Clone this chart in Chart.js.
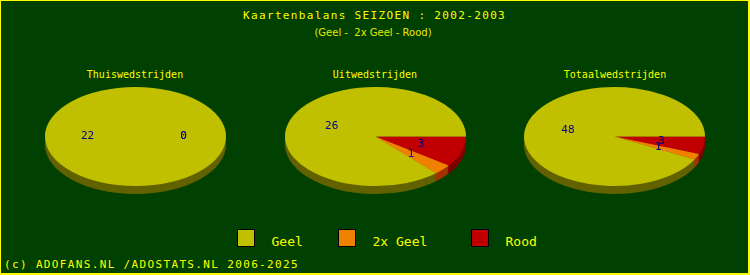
<!DOCTYPE html>
<html>
<head>
<meta charset="utf-8">
<script src="https://cdn.jsdelivr.net/npm/chart.js@4.4.1/dist/chart.umd.min.js"></script>
<style>
body { margin: 0; background: #004000; }
#wrap {
    position: relative; width: 747px; height: 272px; background: #004000;
    border-top: 1px solid #ffff00; border-left: 1px solid #ffff00;
    border-right: 2px solid #ffff00; border-bottom: 2px solid #ffff00;
    overflow: hidden; color: #ffff00; font-family: "DejaVu Sans Mono", monospace;
}
.txt { position: absolute; white-space: pre; }
.mono11 { font-size: 11px; line-height: 11px; letter-spacing: 1.35px; }
.pietitle { font-size: 10px; line-height: 10px; width: 200px; text-align: center; }
.legtxt { font-size: 13px; line-height: 13px; }
.box { position: absolute; width: 16px; height: 16px; border: 1px solid #000; }
canvas { position: absolute; }
</style>
</head>
<body>
<div id="wrap">
    <div class="txt mono11" style="left:242px; top:9px;">Kaartenbalans SEIZOEN : 2002-2003</div>
    <div class="txt" style="left:0; width:744px; text-align:center; top:27px; font-family:'DejaVu Sans'; font-size:10px; line-height:10px; color:#e8e800;">(Geel -  2x Geel - Rood)</div>

    <div class="txt pietitle" style="left:34px; top:69px;" id="t0"></div>
    <div class="txt pietitle" style="left:274px; top:69px;" id="t1"></div>
    <div class="txt pietitle" style="left:514px; top:69px;" id="t2"></div>

    <canvas id="pie0" width="181" height="181" style="left:44px; top:45px;"></canvas>
    <canvas id="pie1" width="181" height="181" style="left:284px; top:45px;"></canvas>
    <canvas id="pie2" width="181" height="181" style="left:523px; top:45px;"></canvas>

    <div id="legend"></div>

    <div class="txt mono11" style="left:3px; top:258px;">(c) ADOFANS.NL /ADOSTATS.NL 2006-2025</div>
</div>
<script>
// kaarten per soort wedstrijd
var categories = ["Geel", "2x Geel", "Rood"];
var pieTitles = ["Thuiswedstrijden", "Uitwedstrijden", "Totaalwedstrijden"];
var geel = [22, 26, 48];
var dubbelGeel = [0, 1, 1];
var rood = [0, 3, 3];

var topColors = ["#c0c000", "#f08000", "#c00000"];
var sideColors = ["#626200", "#a03400", "#800000"];

// legend (html)
var legX = [236, 337, 470];
var legTxtX = [270.5, 371.5, 504.5];
var legend = document.getElementById("legend");
categories.forEach(function (c, i) {
    var b = document.createElement("div");
    b.className = "box";
    b.style.left = legX[i] + "px";
    b.style.top = "228px";
    b.style.background = topColors[i];
    legend.appendChild(b);
    var t = document.createElement("div");
    t.className = "txt legtxt";
    t.style.left = legTxtX[i] + "px";
    t.style.top = "233.5px";
    t.textContent = c;
    legend.appendChild(t);
});

pieTitles.forEach(function (t, i) {
    document.getElementById("t" + i).textContent = t;
});

// squash the pie and give it a rim
var pie3d = {
    id: "pie3d",
    beforeDatasetsDraw: function (chart, args, opts) {
        var ctx = chart.ctx;
        var arcs = chart.getDatasetMeta(0).data;
        var cx = arcs[0].x, cy = arcs[0].y;
        ctx.save();
        ctx.translate(cx, cy);
        ctx.scale(1, opts.squash);
        ctx.translate(-cx, -cy);
        for (var d = opts.depth; d >= 1; d--) {
            arcs.forEach(function (a, i) {
                if (a.endAngle - a.startAngle <= 0) return;
                var off = d / opts.squash;
                ctx.beginPath();
                ctx.moveTo(a.x, a.y + off);
                ctx.arc(a.x, a.y + off, a.outerRadius, a.startAngle, a.endAngle);
                ctx.closePath();
                ctx.fillStyle = opts.sides[i];
                ctx.fill();
            });
        }
    },
    afterDatasetsDraw: function (chart, args, opts) {
        var ctx = chart.ctx;
        ctx.restore();
        var arcs = chart.getDatasetMeta(0).data;
        var vals = chart.data.datasets[0].data;
        ctx.save();
        ctx.font = "11px 'DejaVu Sans Mono'";
        ctx.fillStyle = "#000080";
        ctx.textAlign = "center";
        ctx.textBaseline = "middle";
        arcs.forEach(function (a, i) {
            var mid = (a.startAngle + a.endAngle) / 2;
            var r = a.outerRadius * 0.53;
            ctx.fillText(vals[i], a.x + r * Math.cos(mid), a.y + r * opts.squash * Math.sin(mid));
        });
        ctx.restore();
    }
};

for (var i = 0; i < 3; i++) {
    new Chart(document.getElementById("pie" + i), {
        type: "pie",
        data: {
            labels: categories.slice().reverse(),
            datasets: [{
                data: [rood[i], dubbelGeel[i], geel[i]],
                backgroundColor: topColors.slice().reverse(),
                borderWidth: 0
            }]
        },
        options: {
            responsive: false,
            animation: false,
            rotation: 90,
            layout: { padding: 0 },
            events: [],
            plugins: {
                legend: { display: false },
                tooltip: { enabled: false },
                pie3d: { squash: 0.547, depth: 8, sides: sideColors.slice().reverse() }
            }
        },
        plugins: [pie3d]
    });
}
</script>
</body>
</html>
